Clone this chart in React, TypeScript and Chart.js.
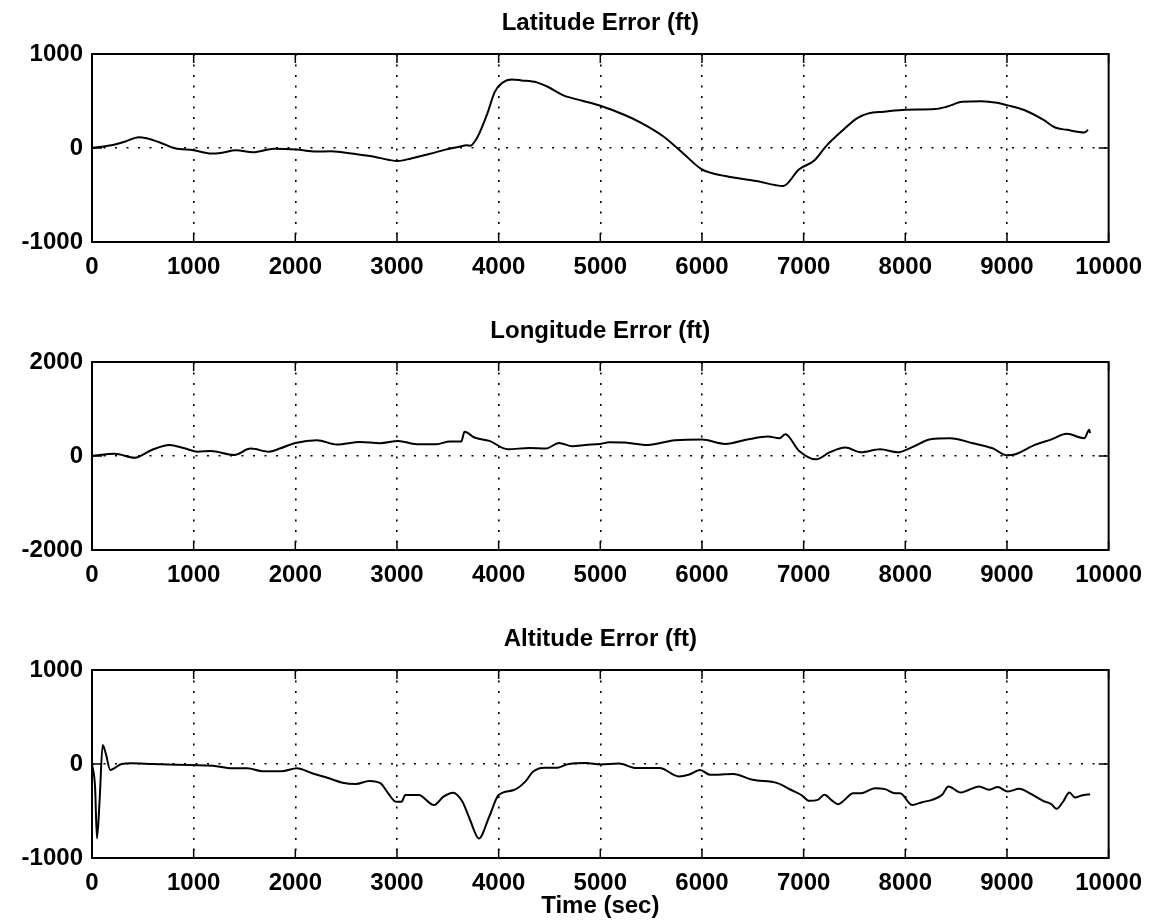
import React, { useEffect, useRef } from "react";
import { Chart, registerables } from "chart.js";

Chart.register(...registerables);

// ---------------- data ----------------
const xTickValues = [0, 1000, 2000, 3000, 4000, 5000, 6000, 7000, 8000, 9000, 10000];

const latTitle = "Latitude Error (ft)";
const latYTicks = [-1000, 0, 1000];
const latTime = [0, 217, 330, 460, 535, 667, 816, 1000, 1172, 1266, 1416, 1584, 1790, 2015, 2202, 2352, 2577, 2764, 2914, 3007, 3139, 3326, 3476, 3625, 3682, 3720, 3794, 3888, 3963, 4037, 4131, 4225, 4375, 4487, 4637, 4824, 5000, 5240, 5411, 5621, 5811, 6000, 6230, 6535, 6800, 6953, 7105, 7219, 7371, 7524, 7638, 7790, 8000, 8293, 8407, 8560, 8750, 8903, 9000, 9170, 9360, 9474, 9589, 9760, 9798];
const latValues = [0, 35, 70, 115, 104, 59, -3, -24, -59, -52, -24, -45, -7, -17, -38, -35, -62, -90, -125, -139, -111, -62, -17, 17, 28, 25, 121, 364, 600, 694, 729, 719, 698, 649, 560, 503, 449, 351, 263, 123, -53, -228, -298, -351, -404, -228, -133, 18, 175, 316, 368, 386, 407, 414, 439, 491, 498, 481, 456, 404, 298, 218, 193, 165, 193];

const lonTitle = "Longitude Error (ft)";
const lonYTicks = [-2000, 0, 2000];
const lonTime = [0, 224, 420, 582, 762, 909, 1039, 1169, 1398, 1561, 1741, 1854, 2001, 2213, 2409, 2637, 2833, 3013, 3192, 3387, 3518, 3632, 3664, 3762, 3909, 4089, 4300, 4464, 4594, 4725, 4855, 5000, 5088, 5240, 5468, 5735, 6000, 6230, 6458, 6649, 6763, 6820, 6953, 7124, 7257, 7409, 7562, 7753, 7924, 8058, 8248, 8438, 8667, 8858, 9000, 9084, 9274, 9426, 9589, 9760, 9810, 9817];
const lonValues = [0, 50, -36, 122, 235, 164, 93, 107, 21, 157, 93, 164, 278, 335, 243, 300, 271, 321, 250, 250, 307, 307, 514, 393, 321, 143, 171, 157, 278, 207, 235, 257, 293, 286, 236, 336, 350, 257, 357, 414, 379, 464, 114, -71, 79, 179, 79, 143, 79, 179, 357, 379, 271, 164, 14, 36, 236, 343, 471, 379, 557, 486];

const altTitle = "Altitude Error (ft)";
const altYTicks = [-1000, 0, 1000];
const altTime = [0, 30, 49, 75, 105, 135, 180, 217, 292, 386, 592, 966, 1191, 1378, 1528, 1678, 1865, 2015, 2165, 2315, 2464, 2595, 2727, 2839, 2914, 2989, 3045, 3082, 3213, 3363, 3457, 3551, 3644, 3719, 3806, 3907, 4000, 4150, 4262, 4337, 4449, 4581, 4674, 4861, 5000, 5183, 5354, 5583, 5773, 5868, 5983, 6078, 6306, 6497, 6742, 6874, 6973, 7056, 7139, 7205, 7271, 7337, 7404, 7486, 7569, 7701, 7800, 7900, 7949, 8065, 8165, 8264, 8363, 8423, 8546, 8628, 8726, 8825, 8909, 9008, 9123, 9222, 9355, 9437, 9487, 9553, 9613, 9669, 9735, 9818];
const altValues = [0, -241, -792, -383, 202, 114, -64, -46, 0, 7, 0, -11, -18, -46, -46, -78, -78, -46, -99, -146, -199, -213, -181, -206, -312, -401, -401, -330, -330, -437, -348, -305, -401, -596, -792, -561, -330, -277, -188, -82, -39, -39, -4, 10, -5, 4, -43, -43, -132, -114, -64, -114, -107, -168, -203, -274, -327, -392, -381, -327, -381, -428, -381, -310, -310, -257, -267, -310, -310, -435, -406, -381, -327, -239, -303, -274, -239, -274, -246, -292, -264, -310, -392, -428, -477, -399, -303, -357, -335, -321];

const xAxisTitle = "Time (sec)";

// ---------------- styling ----------------
const FONT = "'Liberation Sans', Arial, Helvetica, sans-serif";
const CANVAS_W = 1153;
const CANVAS_H = 308;

const framePlugin = {
  id: "matlabFrame",
  afterDraw(chart: any) {
    const { ctx, chartArea } = chart;
    const { left, right, top, bottom } = chartArea;
    ctx.save();
    ctx.strokeStyle = "#000";
    ctx.lineWidth = 2;
    ctx.setLineDash([]);
    ctx.strokeRect(left, top, right - left, bottom - top);
    ctx.lineWidth = 1.5;
    const xs = chart.scales.x;
    xs.ticks.forEach((t: any) => {
      const px = xs.getPixelForValue(t.value);
      ctx.beginPath();
      ctx.moveTo(px, bottom);
      ctx.lineTo(px, bottom - 9);
      ctx.moveTo(px, top);
      ctx.lineTo(px, top + 9);
      ctx.stroke();
    });
    const ys = chart.scales.y;
    ys.ticks.forEach((t: any) => {
      const py = ys.getPixelForValue(t.value);
      ctx.beginPath();
      ctx.moveTo(left, py);
      ctx.lineTo(left + 10, py);
      ctx.moveTo(right, py);
      ctx.lineTo(right - 10, py);
      ctx.stroke();
    });
    ctx.restore();
  },
};

function buildConfig(
  title: string,
  times: number[],
  values: number[],
  yTicks: number[],
  showXTitle: boolean
): any {
  const yMin = yTicks[0];
  const yMax = yTicks[yTicks.length - 1];
  return {
    type: "line",
    data: {
      datasets: [
        {
          data: times.map((t, i) => ({ x: t, y: values[i] })),
          borderColor: "#000",
          borderWidth: 2,
          pointRadius: 0,
          cubicInterpolationMode: "monotone",
          fill: false,
        },
      ],
    },
    options: {
      animation: false,
      responsive: false,
      devicePixelRatio: 1,
      layout: { padding: { left: 0, right: 43, top: 0, bottom: 0 } },
      plugins: {
        legend: { display: false },
        tooltip: { enabled: false },
        title: {
          display: true,
          fullSize: false,
          text: title,
          color: "#000",
          font: { family: FONT, size: 24, weight: "bold", lineHeight: 1.2 },
          padding: { top: 8.6, bottom: 16.6 },
        },
      },
      scales: {
        x: {
          type: "linear",
          min: xTickValues[0],
          max: xTickValues[xTickValues.length - 1],
          afterBuildTicks: (scale: any) => {
            scale.ticks = xTickValues.map((v) => ({ value: v }));
          },
          afterFit: (scale: any) => {
            scale.height = 66;
          },
          ticks: {
            color: "#000",
            font: { family: FONT, size: 24, weight: "bold", lineHeight: 1.2 },
            padding: 11,
            maxRotation: 0,
            autoSkip: false,
            callback: (v: any) => String(v),
          },
          grid: {
            drawTicks: false,
            lineWidth: 1.6,
            color: (c: any) =>
              c.tick && c.tick.value > xTickValues[0] && c.tick.value < xTickValues[xTickValues.length - 1]
                ? "#000"
                : "rgba(0,0,0,0)",
          },
          border: { display: false, dash: [2, 8.5] },
          title: {
            display: showXTitle,
            text: xAxisTitle,
            color: "#000",
            font: { family: FONT, size: 24, weight: "bold", lineHeight: 1.2 },
            padding: { top: 0, bottom: 3 },
          },
        },
        y: {
          type: "linear",
          min: yMin,
          max: yMax,
          afterBuildTicks: (scale: any) => {
            scale.ticks = yTicks.map((v) => ({ value: v }));
          },
          afterFit: (scale: any) => {
            scale.width = 92;
          },
          ticks: {
            color: "#000",
            font: { family: FONT, size: 24, weight: "bold", lineHeight: 1.2 },
            padding: 9,
            callback: (v: any) => String(v),
          },
          grid: {
            drawTicks: false,
            lineWidth: 1.6,
            color: (c: any) => (c.tick && c.tick.value === 0 ? "#000" : "rgba(0,0,0,0)"),
          },
          border: { display: false, dash: [2, 9.5] },
        },
      },
    },
    plugins: [framePlugin],
  };
}

function SubPlot(props: {
  top: number;
  title: string;
  times: number[];
  values: number[];
  yTicks: number[];
  showXTitle: boolean;
}) {
  const ref = useRef<HTMLCanvasElement | null>(null);
  useEffect(() => {
    if (!ref.current) return;
    const chart = new Chart(
      ref.current,
      buildConfig(props.title, props.times, props.values, props.yTicks, props.showXTitle)
    );
    return () => chart.destroy();
  }, []);
  return (
    <canvas
      ref={ref}
      width={CANVAS_W}
      height={CANVAS_H}
      style={{
        position: "absolute",
        left: 0,
        top: props.top,
        width: CANVAS_W,
        height: CANVAS_H,
        display: "block",
      }}
    />
  );
}

export default function App() {
  return (
    <div
      style={{
        position: "absolute",
        left: 0,
        top: 0,
        width: CANVAS_W,
        height: 924,
        background: "#fff",
        overflow: "hidden",
      }}
    >
      <SubPlot top={0} title={latTitle} times={latTime} values={latValues} yTicks={latYTicks} showXTitle={false} />
      <SubPlot top={308} title={lonTitle} times={lonTime} values={lonValues} yTicks={lonYTicks} showXTitle={false} />
      <SubPlot top={616} title={altTitle} times={altTime} values={altValues} yTicks={altYTicks} showXTitle={true} />
    </div>
  );
}
